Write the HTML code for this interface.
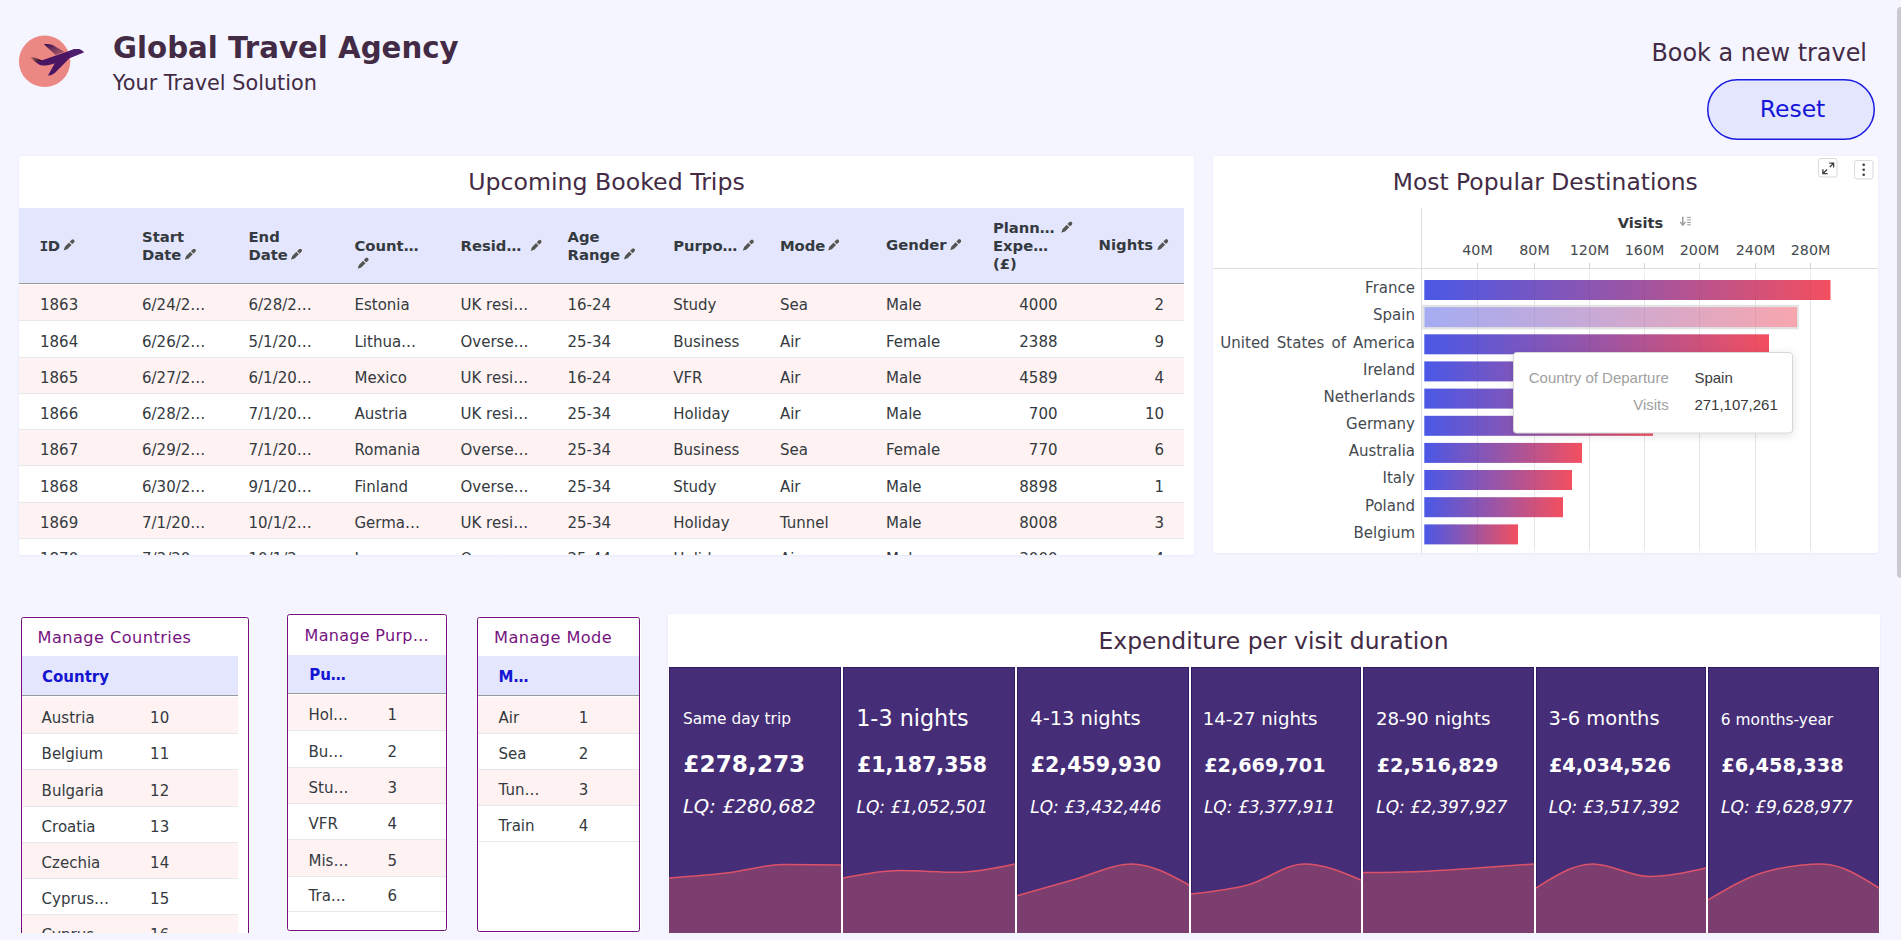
<!DOCTYPE html>
<html lang="en"><head><meta charset="utf-8"><title>Global Travel Agency</title>
<style>
html,body{margin:0;padding:0;background:#f4f5ff;overflow:hidden;}
body{width:1901px;height:940px;font-family:"DejaVu Sans", "Liberation Sans", sans-serif;}
svg{display:block;}
</style></head><body>
<svg width="1901" height="940" viewBox="0 0 1901 940" font-family="DejaVu Sans, Liberation Sans, sans-serif">
<defs>
<linearGradient id="gw" x1="0" y1="0" x2="1" y2="1"><stop offset="0" stop-color="#3a0f52"/><stop offset="1" stop-color="#b2606a"/></linearGradient>
<linearGradient id="gt" x1="0" y1="0" x2="1" y2="0.3"><stop offset="0" stop-color="#c77373"/><stop offset="1" stop-color="#1e0620"/></linearGradient>
<linearGradient id="bar" x1="0" y1="0" x2="1" y2="0"><stop offset="0" stop-color="#4a58e6"/><stop offset="0.5" stop-color="#9a55a6"/><stop offset="1" stop-color="#f34f5f"/></linearGradient>
<linearGradient id="barl" x1="0" y1="0" x2="1" y2="0"><stop offset="0" stop-color="#a5acf2"/><stop offset="0.5" stop-color="#cca9d2"/><stop offset="1" stop-color="#f7a6ae"/></linearGradient>
<filter id="sh" x="-10%" y="-10%" width="120%" height="130%"><feDropShadow dx="0" dy="2" stdDeviation="4" flood-color="#000" flood-opacity="0.12"/></filter>
<filter id="psh" x="-2%" y="-2%" width="104%" height="104%"><feDropShadow dx="0" dy="0.5" stdDeviation="0.8" flood-color="#b8b8d8" flood-opacity="0.25"/></filter>
<clipPath id="clipT"><rect x="19" y="156" width="1175" height="399"/></clipPath>
<clipPath id="clipB"><rect x="0" y="560" width="1901" height="373"/></clipPath>
</defs>
<circle cx="44.6" cy="61.3" r="25.7" fill="#eb8884"/>
<path d="M43.9,44.3 C46,43.9 48.8,43.8 52.7,45.1 L64.6,52.1 L55.6,54.9 Z" fill="url(#gw)"/>
<path d="M30.1,57.2 L34,57.3 L42.4,60.4 L36.3,62.8 Z" fill="url(#gt)"/>
<path d="M36.3,62.6 C38.5,64.6 40.5,65.6 43,65.6 C47,65.6 51,64.6 54.8,63.2 L48,75.4 C49.5,75.8 52.5,75.1 55.6,72.3 L69.7,57.9 L83.9,52.3 C82.5,51 81,49.8 79.2,49.3 C77,48.7 74,49 71.8,50 L67.6,51.5 L42.2,60.3 Z" fill="#4a1562"/>
<path d="M69.3,51 L71.8,50 C74,49 77,48.7 79.2,49.3 C81,49.8 82.5,51 83.9,52.3 L69.7,57.9 L69.3,58.1 Z" fill="#4f1d6e"/>
<text x="113" y="58" font-size="29.25" fill="#432b45" font-weight="bold">Global Travel Agency</text>
<text x="112.8" y="89.8" font-size="20.8" fill="#432b45">Your Travel Solution</text>
<text x="1867" y="60.6" font-size="23.9" fill="#432b45" text-anchor="end">Book a new travel</text>
<rect x="1707.75" y="79.75" width="166.5" height="59.5" rx="29.75" fill="#e3e6fc" stroke="#1a1ae0" stroke-width="1.5"/>
<text x="1792.5" y="117.2" font-size="23.5" fill="#1515d8" text-anchor="middle">Reset</text>
<rect x="19" y="156" width="1175" height="399" fill="#fff" rx="3" filter="url(#psh)"/>
<text x="606.5" y="190" font-size="23.65" fill="#432b45" text-anchor="middle">Upcoming Booked Trips</text>
<g clip-path="url(#clipT)">
<rect x="19" y="208" width="1165" height="75" fill="#e3e6fc"/>
<rect x="19" y="283" width="1165" height="1" fill="#9a9a9a"/>
<text x="39.4" y="250.7" font-size="14.8" fill="#343a40" font-weight="bold"><tspan font-family="DejaVu Sans Mono, monospace" font-size="14.8">I</tspan><tspan dx="-0.6">D</tspan></text>
<path transform="translate(63.6,250.4)" d="M0,0 L1.23,-3.77 L5.43,-7.97 L7.97,-5.43 L3.77,-1.23 Z M6.15,-8.69 L8.06,-10.6 A1.8,1.8 0 0 1 10.6,-8.06 L8.69,-6.15 Z" fill="#555" stroke="#fff" stroke-width="0.9" stroke-opacity="0.8" paint-order="stroke"/>
<text x="142" y="241.9" font-size="14.8" fill="#343a40" font-weight="bold">Start</text>
<text x="142" y="260.1" font-size="14.8" fill="#343a40" font-weight="bold">Date</text>
<path transform="translate(184.8,259.8)" d="M0,0 L1.23,-3.77 L5.43,-7.97 L7.97,-5.43 L3.77,-1.23 Z M6.15,-8.69 L8.06,-10.6 A1.8,1.8 0 0 1 10.6,-8.06 L8.69,-6.15 Z" fill="#555" stroke="#fff" stroke-width="0.9" stroke-opacity="0.8" paint-order="stroke"/>
<text x="248.5" y="241.9" font-size="14.8" fill="#343a40" font-weight="bold">End</text>
<text x="248.5" y="260.1" font-size="14.8" fill="#343a40" font-weight="bold">Date</text>
<path transform="translate(290.9,259.8)" d="M0,0 L1.23,-3.77 L5.43,-7.97 L7.97,-5.43 L3.77,-1.23 Z M6.15,-8.69 L8.06,-10.6 A1.8,1.8 0 0 1 10.6,-8.06 L8.69,-6.15 Z" fill="#555" stroke="#fff" stroke-width="0.9" stroke-opacity="0.8" paint-order="stroke"/>
<text x="354.5" y="250.5" font-size="14.8" fill="#343a40" font-weight="bold">Count…</text>
<path transform="translate(357.6,268.7)" d="M0,0 L1.23,-3.77 L5.43,-7.97 L7.97,-5.43 L3.77,-1.23 Z M6.15,-8.69 L8.06,-10.6 A1.8,1.8 0 0 1 10.6,-8.06 L8.69,-6.15 Z" fill="#555" stroke="#fff" stroke-width="0.9" stroke-opacity="0.8" paint-order="stroke"/>
<text x="460.5" y="250.5" font-size="14.8" fill="#343a40" font-weight="bold">Resid…</text>
<path transform="translate(530.6,250.9)" d="M0,0 L1.23,-3.77 L5.43,-7.97 L7.97,-5.43 L3.77,-1.23 Z M6.15,-8.69 L8.06,-10.6 A1.8,1.8 0 0 1 10.6,-8.06 L8.69,-6.15 Z" fill="#555" stroke="#fff" stroke-width="0.9" stroke-opacity="0.8" paint-order="stroke"/>
<text x="567.5" y="241.9" font-size="14.8" fill="#343a40" font-weight="bold">Age</text>
<text x="567.5" y="260.1" font-size="14.8" fill="#343a40" font-weight="bold">Range</text>
<path transform="translate(623.9,259.5)" d="M0,0 L1.23,-3.77 L5.43,-7.97 L7.97,-5.43 L3.77,-1.23 Z M6.15,-8.69 L8.06,-10.6 A1.8,1.8 0 0 1 10.6,-8.06 L8.69,-6.15 Z" fill="#555" stroke="#fff" stroke-width="0.9" stroke-opacity="0.8" paint-order="stroke"/>
<text x="673.2" y="250.8" font-size="14.8" fill="#343a40" font-weight="bold">Purpo…</text>
<path transform="translate(742.8,250.7)" d="M0,0 L1.23,-3.77 L5.43,-7.97 L7.97,-5.43 L3.77,-1.23 Z M6.15,-8.69 L8.06,-10.6 A1.8,1.8 0 0 1 10.6,-8.06 L8.69,-6.15 Z" fill="#555" stroke="#fff" stroke-width="0.9" stroke-opacity="0.8" paint-order="stroke"/>
<text x="779.9" y="250.8" font-size="14.8" fill="#343a40" font-weight="bold">Mode</text>
<path transform="translate(828.1,250.5)" d="M0,0 L1.23,-3.77 L5.43,-7.97 L7.97,-5.43 L3.77,-1.23 Z M6.15,-8.69 L8.06,-10.6 A1.8,1.8 0 0 1 10.6,-8.06 L8.69,-6.15 Z" fill="#555" stroke="#fff" stroke-width="0.9" stroke-opacity="0.8" paint-order="stroke"/>
<text x="886" y="250.4" font-size="14.8" fill="#343a40" font-weight="bold">Gender</text>
<path transform="translate(950.2,250.2)" d="M0,0 L1.23,-3.77 L5.43,-7.97 L7.97,-5.43 L3.77,-1.23 Z M6.15,-8.69 L8.06,-10.6 A1.8,1.8 0 0 1 10.6,-8.06 L8.69,-6.15 Z" fill="#555" stroke="#fff" stroke-width="0.9" stroke-opacity="0.8" paint-order="stroke"/>
<text x="992.9" y="232.7" font-size="14.8" fill="#343a40" font-weight="bold">Plann…</text>
<path transform="translate(1061.3,232.7)" d="M0,0 L1.23,-3.77 L5.43,-7.97 L7.97,-5.43 L3.77,-1.23 Z M6.15,-8.69 L8.06,-10.6 A1.8,1.8 0 0 1 10.6,-8.06 L8.69,-6.15 Z" fill="#555" stroke="#fff" stroke-width="0.9" stroke-opacity="0.8" paint-order="stroke"/>
<text x="992.9" y="250.9" font-size="14.8" fill="#343a40" font-weight="bold">Expe…</text>
<text x="992.9" y="268.9" font-size="14.8" fill="#343a40" font-weight="bold">(£)</text>
<text x="1098.6" y="250.4" font-size="14.8" fill="#343a40" font-weight="bold">Nights</text>
<path transform="translate(1157.2,250.2)" d="M0,0 L1.23,-3.77 L5.43,-7.97 L7.97,-5.43 L3.77,-1.23 Z M6.15,-8.69 L8.06,-10.6 A1.8,1.8 0 0 1 10.6,-8.06 L8.69,-6.15 Z" fill="#555" stroke="#fff" stroke-width="0.9" stroke-opacity="0.8" paint-order="stroke"/>
<rect x="19" y="285" width="1165" height="35" fill="#fef2f2"/>
<rect x="19" y="320" width="1165" height="1" fill="#e8e8ea"/>
<text x="40" y="310.2" font-size="15" fill="#343a40">1863</text>
<text x="142" y="310.2" font-size="15" fill="#343a40">6/24/2…</text>
<text x="248.5" y="310.2" font-size="15" fill="#343a40">6/28/2…</text>
<text x="354.5" y="310.2" font-size="15" fill="#343a40">Estonia</text>
<text x="460.5" y="310.2" font-size="15" fill="#343a40">UK resi…</text>
<text x="567.5" y="310.2" font-size="15" fill="#343a40">16-24</text>
<text x="673.2" y="310.2" font-size="15" fill="#343a40">Study</text>
<text x="779.9" y="310.2" font-size="15" fill="#343a40">Sea</text>
<text x="886" y="310.2" font-size="15" fill="#343a40">Male</text>
<text x="1057.5" y="310.2" font-size="15" fill="#343a40" text-anchor="end">4000</text>
<text x="1164" y="310.2" font-size="15" fill="#343a40" text-anchor="end">2</text>
<rect x="19" y="357" width="1165" height="1" fill="#e8e8ea"/>
<text x="40" y="347.2" font-size="15" fill="#343a40">1864</text>
<text x="142" y="347.2" font-size="15" fill="#343a40">6/26/2…</text>
<text x="248.5" y="347.2" font-size="15" fill="#343a40">5/1/20…</text>
<text x="354.5" y="347.2" font-size="15" fill="#343a40">Lithua…</text>
<text x="460.5" y="347.2" font-size="15" fill="#343a40">Overse…</text>
<text x="567.5" y="347.2" font-size="15" fill="#343a40">25-34</text>
<text x="673.2" y="347.2" font-size="15" fill="#343a40">Business</text>
<text x="779.9" y="347.2" font-size="15" fill="#343a40">Air</text>
<text x="886" y="347.2" font-size="15" fill="#343a40">Female</text>
<text x="1057.5" y="347.2" font-size="15" fill="#343a40" text-anchor="end">2388</text>
<text x="1164" y="347.2" font-size="15" fill="#343a40" text-anchor="end">9</text>
<rect x="19" y="358" width="1165" height="35" fill="#fef2f2"/>
<rect x="19" y="393" width="1165" height="1" fill="#e8e8ea"/>
<text x="40" y="383.2" font-size="15" fill="#343a40">1865</text>
<text x="142" y="383.2" font-size="15" fill="#343a40">6/27/2…</text>
<text x="248.5" y="383.2" font-size="15" fill="#343a40">6/1/20…</text>
<text x="354.5" y="383.2" font-size="15" fill="#343a40">Mexico</text>
<text x="460.5" y="383.2" font-size="15" fill="#343a40">UK resi…</text>
<text x="567.5" y="383.2" font-size="15" fill="#343a40">16-24</text>
<text x="673.2" y="383.2" font-size="15" fill="#343a40">VFR</text>
<text x="779.9" y="383.2" font-size="15" fill="#343a40">Air</text>
<text x="886" y="383.2" font-size="15" fill="#343a40">Male</text>
<text x="1057.5" y="383.2" font-size="15" fill="#343a40" text-anchor="end">4589</text>
<text x="1164" y="383.2" font-size="15" fill="#343a40" text-anchor="end">4</text>
<rect x="19" y="429" width="1165" height="1" fill="#e8e8ea"/>
<text x="40" y="419.2" font-size="15" fill="#343a40">1866</text>
<text x="142" y="419.2" font-size="15" fill="#343a40">6/28/2…</text>
<text x="248.5" y="419.2" font-size="15" fill="#343a40">7/1/20…</text>
<text x="354.5" y="419.2" font-size="15" fill="#343a40">Austria</text>
<text x="460.5" y="419.2" font-size="15" fill="#343a40">UK resi…</text>
<text x="567.5" y="419.2" font-size="15" fill="#343a40">25-34</text>
<text x="673.2" y="419.2" font-size="15" fill="#343a40">Holiday</text>
<text x="779.9" y="419.2" font-size="15" fill="#343a40">Air</text>
<text x="886" y="419.2" font-size="15" fill="#343a40">Male</text>
<text x="1057.5" y="419.2" font-size="15" fill="#343a40" text-anchor="end">700</text>
<text x="1164" y="419.2" font-size="15" fill="#343a40" text-anchor="end">10</text>
<rect x="19" y="430" width="1165" height="35" fill="#fef2f2"/>
<rect x="19" y="465" width="1165" height="1" fill="#e8e8ea"/>
<text x="40" y="455.2" font-size="15" fill="#343a40">1867</text>
<text x="142" y="455.2" font-size="15" fill="#343a40">6/29/2…</text>
<text x="248.5" y="455.2" font-size="15" fill="#343a40">7/1/20…</text>
<text x="354.5" y="455.2" font-size="15" fill="#343a40">Romania</text>
<text x="460.5" y="455.2" font-size="15" fill="#343a40">Overse…</text>
<text x="567.5" y="455.2" font-size="15" fill="#343a40">25-34</text>
<text x="673.2" y="455.2" font-size="15" fill="#343a40">Business</text>
<text x="779.9" y="455.2" font-size="15" fill="#343a40">Sea</text>
<text x="886" y="455.2" font-size="15" fill="#343a40">Female</text>
<text x="1057.5" y="455.2" font-size="15" fill="#343a40" text-anchor="end">770</text>
<text x="1164" y="455.2" font-size="15" fill="#343a40" text-anchor="end">6</text>
<rect x="19" y="502" width="1165" height="1" fill="#e8e8ea"/>
<text x="40" y="492.2" font-size="15" fill="#343a40">1868</text>
<text x="142" y="492.2" font-size="15" fill="#343a40">6/30/2…</text>
<text x="248.5" y="492.2" font-size="15" fill="#343a40">9/1/20…</text>
<text x="354.5" y="492.2" font-size="15" fill="#343a40">Finland</text>
<text x="460.5" y="492.2" font-size="15" fill="#343a40">Overse…</text>
<text x="567.5" y="492.2" font-size="15" fill="#343a40">25-34</text>
<text x="673.2" y="492.2" font-size="15" fill="#343a40">Study</text>
<text x="779.9" y="492.2" font-size="15" fill="#343a40">Air</text>
<text x="886" y="492.2" font-size="15" fill="#343a40">Male</text>
<text x="1057.5" y="492.2" font-size="15" fill="#343a40" text-anchor="end">8898</text>
<text x="1164" y="492.2" font-size="15" fill="#343a40" text-anchor="end">1</text>
<rect x="19" y="503" width="1165" height="35" fill="#fef2f2"/>
<rect x="19" y="538" width="1165" height="1" fill="#e8e8ea"/>
<text x="40" y="528.2" font-size="15" fill="#343a40">1869</text>
<text x="142" y="528.2" font-size="15" fill="#343a40">7/1/20…</text>
<text x="248.5" y="528.2" font-size="15" fill="#343a40">10/1/2…</text>
<text x="354.5" y="528.2" font-size="15" fill="#343a40">Germa…</text>
<text x="460.5" y="528.2" font-size="15" fill="#343a40">UK resi…</text>
<text x="567.5" y="528.2" font-size="15" fill="#343a40">25-34</text>
<text x="673.2" y="528.2" font-size="15" fill="#343a40">Holiday</text>
<text x="779.9" y="528.2" font-size="15" fill="#343a40">Tunnel</text>
<text x="886" y="528.2" font-size="15" fill="#343a40">Male</text>
<text x="1057.5" y="528.2" font-size="15" fill="#343a40" text-anchor="end">8008</text>
<text x="1164" y="528.2" font-size="15" fill="#343a40" text-anchor="end">3</text>
<rect x="19" y="574" width="1165" height="1" fill="#e8e8ea"/>
<text x="40" y="564.2" font-size="15" fill="#343a40">1870</text>
<text x="142" y="564.2" font-size="15" fill="#343a40">7/3/20…</text>
<text x="248.5" y="564.2" font-size="15" fill="#343a40">10/1/2…</text>
<text x="354.5" y="564.2" font-size="15" fill="#343a40">Japan</text>
<text x="460.5" y="564.2" font-size="15" fill="#343a40">Overse…</text>
<text x="567.5" y="564.2" font-size="15" fill="#343a40">25-44</text>
<text x="673.2" y="564.2" font-size="15" fill="#343a40">Holiday</text>
<text x="779.9" y="564.2" font-size="15" fill="#343a40">Air</text>
<text x="886" y="564.2" font-size="15" fill="#343a40">Male</text>
<text x="1057.5" y="564.2" font-size="15" fill="#343a40" text-anchor="end">3000</text>
<text x="1164" y="564.2" font-size="15" fill="#343a40" text-anchor="end">4</text>
</g>
<rect x="1213" y="156" width="665" height="397" fill="#fff" rx="3" filter="url(#psh)"/>
<text x="1545.3" y="190.3" font-size="23.42" fill="#432b45" text-anchor="middle">Most Popular Destinations</text>
<rect x="1818.5" y="158.5" width="18.5" height="18.5" rx="2.5" fill="#fff" stroke="#d9d9d9"/>
<path d="M1829.3,163.2 L1833.6,163.2 L1833.6,167.6 M1833.2,163.6 L1829.8,167 M1822.9,169.2 L1822.9,173.6 L1827.6,173.6 M1823.3,173.2 L1827,169.5" fill="none" stroke="#3a3d40" stroke-width="1.3"/>
<rect x="1854.5" y="160.5" width="18.5" height="18.5" rx="2.5" fill="#fff" stroke="#d9d9d9"/>
<circle cx="1863.7" cy="164.8" r="1.3" fill="#3a3d40"/>
<circle cx="1863.7" cy="169.7" r="1.3" fill="#3a3d40"/>
<circle cx="1863.7" cy="174.7" r="1.3" fill="#3a3d40"/>
<rect x="1477.0" y="269" width="1" height="284" fill="#f0f0f0"/>
<rect x="1477.0" y="263" width="1" height="5" fill="#d0d0d0"/>
<text x="1477.5" y="254.6" font-size="14.3" fill="#454a50" text-anchor="middle">40M</text>
<rect x="1534.0" y="269" width="1" height="284" fill="#f0f0f0"/>
<rect x="1534.0" y="263" width="1" height="5" fill="#d0d0d0"/>
<text x="1534.5" y="254.6" font-size="14.3" fill="#454a50" text-anchor="middle">80M</text>
<rect x="1589.0" y="269" width="1" height="284" fill="#f0f0f0"/>
<rect x="1589.0" y="263" width="1" height="5" fill="#d0d0d0"/>
<text x="1589.5" y="254.6" font-size="14.3" fill="#454a50" text-anchor="middle">120M</text>
<rect x="1644.0" y="269" width="1" height="284" fill="#f0f0f0"/>
<rect x="1644.0" y="263" width="1" height="5" fill="#d0d0d0"/>
<text x="1644.5" y="254.6" font-size="14.3" fill="#454a50" text-anchor="middle">160M</text>
<rect x="1699.0" y="269" width="1" height="284" fill="#f0f0f0"/>
<rect x="1699.0" y="263" width="1" height="5" fill="#d0d0d0"/>
<text x="1699.5" y="254.6" font-size="14.3" fill="#454a50" text-anchor="middle">200M</text>
<rect x="1755.0" y="269" width="1" height="284" fill="#f0f0f0"/>
<rect x="1755.0" y="263" width="1" height="5" fill="#d0d0d0"/>
<text x="1755.5" y="254.6" font-size="14.3" fill="#454a50" text-anchor="middle">240M</text>
<rect x="1810.0" y="269" width="1" height="284" fill="#f0f0f0"/>
<rect x="1810.0" y="263" width="1" height="5" fill="#d0d0d0"/>
<text x="1810.5" y="254.6" font-size="14.3" fill="#454a50" text-anchor="middle">280M</text>
<rect x="1213" y="268" width="665" height="1" fill="#dedede"/>
<rect x="1421" y="208" width="1" height="345" fill="#dedede"/>
<text x="1640.5" y="227.8" font-size="14.6" fill="#33373b" text-anchor="middle" font-weight="bold">Visits</text>
<path d="M1682.8,216.8 L1682.8,224.5" fill="none" stroke="#9a9a9a" stroke-width="1.5"/>
<path d="M1680.2,222 L1682.8,225.2 L1685.4,222" fill="none" stroke="#9a9a9a" stroke-width="1.2"/>
<rect x="1687.1" y="216.9" width="3.8" height="1" fill="#9a9a9a"/>
<rect x="1687.1" y="219.4" width="3.8" height="1" fill="#9a9a9a"/>
<rect x="1687.1" y="221.9" width="3.8" height="1" fill="#9a9a9a"/>
<rect x="1687.1" y="224.3" width="3.8" height="1" fill="#9a9a9a"/>
<rect x="1424.3" y="280.0" width="406.2" height="20" fill="url(#bar)"/>
<text x="1415" y="293.3" font-size="15" fill="#454a50" text-anchor="end">France</text>
<rect x="1423.5" y="306.1" width="374.0" height="22" fill="none" stroke="#e2e2e2" stroke-width="2.5"/>
<rect x="1424.5" y="307.1" width="372.5" height="20" fill="url(#barl)"/>
<text x="1415" y="320.4" font-size="15" fill="#454a50" text-anchor="end">Spain</text>
<rect x="1424.3" y="334.3" width="344.7" height="20" fill="url(#bar)"/>
<text x="1415" y="347.6" font-size="15" fill="#454a50" text-anchor="end" word-spacing="2.4">United States of America</text>
<rect x="1424.3" y="361.4" width="275.7" height="20" fill="url(#bar)"/>
<text x="1415" y="374.8" font-size="15" fill="#454a50" text-anchor="end">Ireland</text>
<rect x="1424.3" y="388.6" width="265.7" height="20" fill="url(#bar)"/>
<text x="1415" y="401.9" font-size="15" fill="#454a50" text-anchor="end">Netherlands</text>
<rect x="1424.3" y="415.8" width="228.7" height="20" fill="url(#bar)"/>
<text x="1415" y="429.1" font-size="15" fill="#454a50" text-anchor="end">Germany</text>
<rect x="1424.3" y="442.9" width="157.7" height="20" fill="url(#bar)"/>
<text x="1415" y="456.2" font-size="15" fill="#454a50" text-anchor="end">Australia</text>
<rect x="1424.3" y="470.0" width="147.7" height="20" fill="url(#bar)"/>
<text x="1415" y="483.3" font-size="15" fill="#454a50" text-anchor="end">Italy</text>
<rect x="1424.3" y="497.2" width="138.7" height="20" fill="url(#bar)"/>
<text x="1415" y="510.5" font-size="15" fill="#454a50" text-anchor="end">Poland</text>
<rect x="1424.3" y="524.4" width="93.7" height="20" fill="url(#bar)"/>
<text x="1415" y="537.6" font-size="15" fill="#454a50" text-anchor="end">Belgium</text>
<rect x="1477.0" y="278" width="1" height="270" fill="rgba(0,0,0,0.045)"/>
<rect x="1534.0" y="278" width="1" height="270" fill="rgba(0,0,0,0.045)"/>
<rect x="1589.0" y="278" width="1" height="270" fill="rgba(0,0,0,0.045)"/>
<rect x="1644.0" y="278" width="1" height="270" fill="rgba(0,0,0,0.045)"/>
<rect x="1699.0" y="278" width="1" height="270" fill="rgba(0,0,0,0.045)"/>
<rect x="1755.0" y="278" width="1" height="270" fill="rgba(0,0,0,0.045)"/>
<rect x="1810.0" y="278" width="1" height="270" fill="rgba(0,0,0,0.045)"/>
<rect x="1513.5" y="352.5" width="279" height="80.5" rx="3" fill="#fff" stroke="#d6d6d6" filter="url(#sh)"/>
<text x="1668.8" y="382.9" font-size="15" fill="#a0a0a0" text-anchor="end" font-family="'Liberation Sans', Arial, sans-serif">Country of Departure</text>
<text x="1694.4" y="382.9" font-size="15" fill="#3a3a3a" font-family="'Liberation Sans', Arial, sans-serif">Spain</text>
<text x="1668.8" y="409.7" font-size="15" fill="#a0a0a0" text-anchor="end" font-family="'Liberation Sans', Arial, sans-serif">Visits</text>
<text x="1694.4" y="409.7" font-size="15" fill="#3a3a3a" font-family="'Liberation Sans', Arial, sans-serif">271,107,261</text>
<g clip-path="url(#clipB)">
<rect x="20.5" y="616.5" width="229.0" height="344.5" rx="3" fill="none" stroke="#fff" stroke-width="1" opacity="0.9"/>
<rect x="21.5" y="617.5" width="227.0" height="342.5" rx="2" fill="#fff" stroke="#740e7e" stroke-width="1"/>
<rect x="286.5" y="613.5" width="161.0" height="318.0" rx="3" fill="none" stroke="#fff" stroke-width="1" opacity="0.9"/>
<rect x="287.5" y="614.5" width="159.0" height="316.0" rx="2" fill="#fff" stroke="#740e7e" stroke-width="1"/>
<rect x="476.5" y="616.5" width="164.0" height="316.0" rx="3" fill="none" stroke="#fff" stroke-width="1" opacity="0.9"/>
<rect x="477.5" y="617.5" width="162.0" height="314.0" rx="2" fill="#fff" stroke="#740e7e" stroke-width="1"/>
<text x="37.6" y="643.2" font-size="16.2" fill="#77137f" letter-spacing="0.42">Manage Countries</text>
<rect x="22" y="656" width="216" height="39" fill="#e3e6fc"/>
<rect x="22" y="695" width="216" height="1" fill="#9a9a9a"/>
<text x="42" y="682.1" font-size="15" fill="#1414d2" font-weight="bold">Country</text>
<rect x="22" y="697" width="216" height="36" fill="#fef2f2"/>
<rect x="22" y="733" width="216" height="1" fill="#e8e8ea"/>
<text x="41.6" y="722.6" font-size="15" fill="#343a40">Austria</text>
<text x="150.1" y="722.6" font-size="15" fill="#343a40">10</text>
<rect x="22" y="769" width="216" height="1" fill="#e8e8ea"/>
<text x="41.6" y="758.6" font-size="15" fill="#343a40">Belgium</text>
<text x="150.1" y="758.6" font-size="15" fill="#343a40">11</text>
<rect x="22" y="770" width="216" height="36" fill="#fef2f2"/>
<rect x="22" y="806" width="216" height="1" fill="#e8e8ea"/>
<text x="41.6" y="795.6" font-size="15" fill="#343a40">Bulgaria</text>
<text x="150.1" y="795.6" font-size="15" fill="#343a40">12</text>
<rect x="22" y="842" width="216" height="1" fill="#e8e8ea"/>
<text x="41.6" y="831.6" font-size="15" fill="#343a40">Croatia</text>
<text x="150.1" y="831.6" font-size="15" fill="#343a40">13</text>
<rect x="22" y="843" width="216" height="35" fill="#fef2f2"/>
<rect x="22" y="878" width="216" height="1" fill="#e8e8ea"/>
<text x="41.6" y="867.6" font-size="15" fill="#343a40">Czechia</text>
<text x="150.1" y="867.6" font-size="15" fill="#343a40">14</text>
<rect x="22" y="914" width="216" height="1" fill="#e8e8ea"/>
<text x="41.6" y="903.6" font-size="15" fill="#343a40">Cyprus…</text>
<text x="150.1" y="903.6" font-size="15" fill="#343a40">15</text>
<rect x="22" y="915" width="216" height="35" fill="#fef2f2"/>
<rect x="22" y="950" width="216" height="1" fill="#e8e8ea"/>
<text x="41.6" y="939.6" font-size="15" fill="#343a40">Cyprus</text>
<text x="150.1" y="939.6" font-size="15" fill="#343a40">16</text>
<text x="304.6" y="641.4" font-size="16.0" fill="#77137f" letter-spacing="0.3">Manage Purp…</text>
<rect x="288" y="655" width="158" height="38" fill="#e3e6fc"/>
<rect x="288" y="693" width="158" height="1" fill="#9a9a9a"/>
<text x="309.2" y="680.3" font-size="15" fill="#1414d2" font-weight="bold">Pu…</text>
<rect x="288" y="695" width="158" height="35" fill="#fef2f2"/>
<rect x="288" y="730" width="158" height="1" fill="#e8e8ea"/>
<text x="308.5" y="719.6" font-size="15" fill="#343a40">Hol…</text>
<text x="387.6" y="719.6" font-size="15" fill="#343a40">1</text>
<rect x="288" y="767" width="158" height="1" fill="#e8e8ea"/>
<text x="308.5" y="756.6" font-size="15" fill="#343a40">Bu…</text>
<text x="387.6" y="756.6" font-size="15" fill="#343a40">2</text>
<rect x="288" y="768" width="158" height="35" fill="#fef2f2"/>
<rect x="288" y="803" width="158" height="1" fill="#e8e8ea"/>
<text x="308.5" y="792.6" font-size="15" fill="#343a40">Stu…</text>
<text x="387.6" y="792.6" font-size="15" fill="#343a40">3</text>
<rect x="288" y="839" width="158" height="1" fill="#e8e8ea"/>
<text x="308.5" y="828.6" font-size="15" fill="#343a40">VFR</text>
<text x="387.6" y="828.6" font-size="15" fill="#343a40">4</text>
<rect x="288" y="840" width="158" height="36" fill="#fef2f2"/>
<rect x="288" y="876" width="158" height="1" fill="#e8e8ea"/>
<text x="308.5" y="865.6" font-size="15" fill="#343a40">Mis…</text>
<text x="387.6" y="865.6" font-size="15" fill="#343a40">5</text>
<rect x="288" y="911" width="158" height="1" fill="#e8e8ea"/>
<text x="308.5" y="900.6" font-size="15" fill="#343a40">Tra…</text>
<text x="387.6" y="900.6" font-size="15" fill="#343a40">6</text>
<text x="494" y="643.1" font-size="16.2" fill="#77137f" letter-spacing="0.42">Manage Mode</text>
<rect x="478" y="656" width="161" height="39" fill="#e3e6fc"/>
<rect x="478" y="695" width="161" height="1" fill="#9a9a9a"/>
<text x="498.5" y="682.1" font-size="15" fill="#1414d2" font-weight="bold">M…</text>
<rect x="478" y="697" width="161" height="36" fill="#fef2f2"/>
<rect x="478" y="733" width="161" height="1" fill="#e8e8ea"/>
<text x="498.5" y="722.6" font-size="15" fill="#343a40">Air</text>
<text x="578.7" y="722.6" font-size="15" fill="#343a40">1</text>
<rect x="478" y="769" width="161" height="1" fill="#e8e8ea"/>
<text x="498.5" y="758.6" font-size="15" fill="#343a40">Sea</text>
<text x="578.7" y="758.6" font-size="15" fill="#343a40">2</text>
<rect x="478" y="770" width="161" height="35" fill="#fef2f2"/>
<rect x="478" y="805" width="161" height="1" fill="#e8e8ea"/>
<text x="498.5" y="794.6" font-size="15" fill="#343a40">Tun…</text>
<text x="578.7" y="794.6" font-size="15" fill="#343a40">3</text>
<rect x="478" y="841" width="161" height="1" fill="#e8e8ea"/>
<text x="498.5" y="830.6" font-size="15" fill="#343a40">Train</text>
<text x="578.7" y="830.6" font-size="15" fill="#343a40">4</text>
<rect x="668" y="614" width="1212" height="320" fill="#fff" rx="2" filter="url(#psh)"/>
<text x="1273.5" y="649.2" font-size="23.45" fill="#432b45" text-anchor="middle">Expenditure per visit duration</text>
<rect x="669" y="667" width="172" height="266" fill="#452d77"/>
<rect x="669.5" y="667.5" width="171.0" height="265" fill="none" stroke="#2e185f" stroke-width="1" opacity="0.8"/>
<path d="M669.00,878.00 C688.11,876.62 707.22,875.25 726.33,873.00 C745.44,870.75 764.56,864.50 783.67,864.50 C802.78,864.50 821.89,864.75 841.00,865.00 L841,933 L669,933 Z" fill="#7c3d6f"/>
<path d="M669.00,878.00 C688.11,876.62 707.22,875.25 726.33,873.00 C745.44,870.75 764.56,864.50 783.67,864.50 C802.78,864.50 821.89,864.75 841.00,865.00" fill="none" stroke="#dc5269" stroke-width="1.5"/>
<text x="682.9" y="723.9" font-size="15.38" fill="#fff">Same day trip</text>
<text x="683.3" y="772.2" font-size="23.24" fill="#fff" font-weight="bold">£278,273</text>
<text x="682.9" y="813.2" font-size="19.63" fill="#fff" font-style="italic">LQ: £280,682</text>
<rect x="843" y="667" width="172" height="266" fill="#452d77"/>
<rect x="843.5" y="667.5" width="171.0" height="265" fill="none" stroke="#2e185f" stroke-width="1" opacity="0.8"/>
<path d="M843.00,878.00 C862.11,874.30 881.22,870.60 900.33,870.60 C919.44,870.60 938.56,872.30 957.67,872.30 C976.78,872.30 995.89,868.15 1015.00,864.00 L1015,933 L843,933 Z" fill="#7c3d6f"/>
<path d="M843.00,878.00 C862.11,874.30 881.22,870.60 900.33,870.60 C919.44,870.60 938.56,872.30 957.67,872.30 C976.78,872.30 995.89,868.15 1015.00,864.00" fill="none" stroke="#dc5269" stroke-width="1.5"/>
<text x="856.2" y="725.9" font-size="22.29" fill="#fff">1-3 nights</text>
<text x="856.9" y="772.2" font-size="20.6" fill="#fff" font-weight="bold">£1,187,358</text>
<text x="856.5" y="813.2" font-size="17.01" fill="#fff" font-style="italic">LQ: £1,052,501</text>
<rect x="1017" y="667" width="172" height="266" fill="#452d77"/>
<rect x="1017.5" y="667.5" width="171.0" height="265" fill="none" stroke="#2e185f" stroke-width="1" opacity="0.8"/>
<path d="M1017.00,895.70 C1036.11,890.24 1055.22,884.78 1074.33,879.50 C1093.44,874.22 1112.56,864.00 1131.67,864.00 C1150.78,864.00 1169.89,874.50 1189.00,885.00 L1189,933 L1017,933 Z" fill="#7c3d6f"/>
<path d="M1017.00,895.70 C1036.11,890.24 1055.22,884.78 1074.33,879.50 C1093.44,874.22 1112.56,864.00 1131.67,864.00 C1150.78,864.00 1169.89,874.50 1189.00,885.00" fill="none" stroke="#dc5269" stroke-width="1.5"/>
<text x="1030.3" y="724.9" font-size="19.44" fill="#fff">4-13 nights</text>
<text x="1030.7" y="772.2" font-size="20.6" fill="#fff" font-weight="bold">£2,459,930</text>
<text x="1030.3" y="813.2" font-size="16.98" fill="#fff" font-style="italic">LQ: £3,432,446</text>
<rect x="1191" y="667" width="170" height="266" fill="#452d77"/>
<rect x="1191.5" y="667.5" width="169.0" height="265" fill="none" stroke="#2e185f" stroke-width="1" opacity="0.8"/>
<path d="M1191.00,894.00 C1209.89,892.00 1228.78,890.00 1247.67,885.00 C1266.56,880.00 1285.44,864.00 1304.33,864.00 C1323.22,864.00 1342.11,872.00 1361.00,880.00 L1361,933 L1191,933 Z" fill="#7c3d6f"/>
<path d="M1191.00,894.00 C1209.89,892.00 1228.78,890.00 1247.67,885.00 C1266.56,880.00 1285.44,864.00 1304.33,864.00 C1323.22,864.00 1342.11,872.00 1361.00,880.00" fill="none" stroke="#dc5269" stroke-width="1.5"/>
<text x="1202.7" y="724.9" font-size="18.19" fill="#fff">14-27 nights</text>
<text x="1204.2" y="772.2" font-size="19.21" fill="#fff" font-weight="bold">£2,669,701</text>
<text x="1203.9" y="813.2" font-size="17.03" fill="#fff" font-style="italic">LQ: £3,377,911</text>
<rect x="1363" y="667" width="171" height="266" fill="#452d77"/>
<rect x="1363.5" y="667.5" width="170.0" height="265" fill="none" stroke="#2e185f" stroke-width="1" opacity="0.8"/>
<path d="M1363.00,872.60 C1382.00,872.42 1401.00,872.23 1420.00,871.50 C1439.00,870.77 1458.00,869.25 1477.00,868.00 C1496.00,866.75 1515.00,865.38 1534.00,864.00 L1534,933 L1363,933 Z" fill="#7c3d6f"/>
<path d="M1363.00,872.60 C1382.00,872.42 1401.00,872.23 1420.00,871.50 C1439.00,870.77 1458.00,869.25 1477.00,868.00 C1496.00,866.75 1515.00,865.38 1534.00,864.00" fill="none" stroke="#dc5269" stroke-width="1.5"/>
<text x="1375.9" y="724.9" font-size="18.17" fill="#fff">28-90 nights</text>
<text x="1376.7" y="772.2" font-size="19.23" fill="#fff" font-weight="bold">£2,516,829</text>
<text x="1376.3" y="813.2" font-size="16.98" fill="#fff" font-style="italic">LQ: £2,397,927</text>
<rect x="1536" y="667" width="170" height="266" fill="#452d77"/>
<rect x="1536.5" y="667.5" width="169.0" height="265" fill="none" stroke="#2e185f" stroke-width="1" opacity="0.8"/>
<path d="M1536.00,888.00 C1554.89,876.00 1573.78,864.00 1592.67,864.00 C1611.56,864.00 1630.44,876.50 1649.33,876.50 C1668.22,876.50 1687.11,872.25 1706.00,868.00 L1706,933 L1536,933 Z" fill="#7c3d6f"/>
<path d="M1536.00,888.00 C1554.89,876.00 1573.78,864.00 1592.67,864.00 C1611.56,864.00 1630.44,876.50 1649.33,876.50 C1668.22,876.50 1687.11,872.25 1706.00,868.00" fill="none" stroke="#dc5269" stroke-width="1.5"/>
<text x="1548.4" y="724.9" font-size="19.45" fill="#fff">3-6 months</text>
<text x="1548.9" y="772.2" font-size="19.3" fill="#fff" font-weight="bold">£4,034,526</text>
<text x="1548.8" y="813.2" font-size="16.98" fill="#fff" font-style="italic">LQ: £3,517,392</text>
<rect x="1708" y="667" width="171" height="266" fill="#452d77"/>
<rect x="1708.5" y="667.5" width="170.0" height="265" fill="none" stroke="#2e185f" stroke-width="1" opacity="0.8"/>
<path d="M1708.00,900.00 C1727.00,888.67 1746.00,877.33 1765.00,872.00 C1784.00,866.67 1803.00,864.00 1822.00,864.00 C1841.00,864.00 1860.00,876.00 1879.00,888.00 L1879,933 L1708,933 Z" fill="#7c3d6f"/>
<path d="M1708.00,900.00 C1727.00,888.67 1746.00,877.33 1765.00,872.00 C1784.00,866.67 1803.00,864.00 1822.00,864.00 C1841.00,864.00 1860.00,876.00 1879.00,888.00" fill="none" stroke="#dc5269" stroke-width="1.5"/>
<text x="1720.8" y="724.9" font-size="15.42" fill="#fff">6 months-year</text>
<text x="1721.3" y="772.2" font-size="19.35" fill="#fff" font-weight="bold">£6,458,338</text>
<text x="1721.0" y="813.2" font-size="17.05" fill="#fff" font-style="italic">LQ: £9,628,977</text>
</g>
<rect x="1897" y="7" width="8" height="571" rx="4" fill="#c9c9d1"/>
</svg>
</body></html>
